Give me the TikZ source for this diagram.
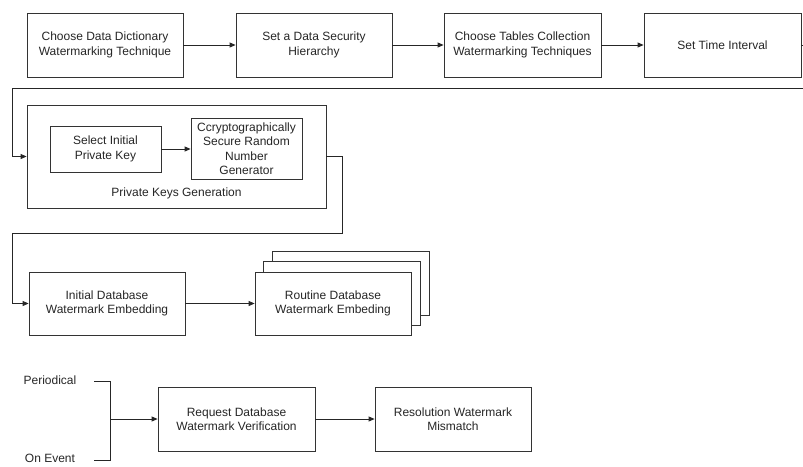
\documentclass[tikz,border=0pt]{standalone}
\usepackage{fontspec}
\setmainfont{Liberation Sans}
\usetikzlibrary{arrows.meta}
\begin{document}
\begin{tikzpicture}[x=1pt,y=-1pt,
  every node/.style={font=\fontsize{12}{14.5}\selectfont, text=black!85},
  box/.style={draw=black!80, line width=0.8pt, fill=white, align=center, inner sep=0pt},
  conn/.style={draw=black!85, line width=0.8pt},
  arr/.style={conn, -{Triangle[length=6pt,width=5pt]}}]
\useasboundingbox (0,0) rectangle (803,466);

% row 1
\node[box, minimum width=156pt, minimum height=64pt] (b1) at (105,45) {Choose Data Dictionary\\Watermarking Technique};
\node[box, minimum width=156pt, minimum height=64pt] (b2) at (314,45) {Set a Data Security\\Hierarchy};
\node[box, minimum width=157pt, minimum height=64pt] (b3) at (522.5,45) {Choose Tables Collection\\Watermarking Techniques};
\node[box, minimum width=157pt, minimum height=64pt] (b4) at (722.5,45) {Set Time Interval};
\draw[arr] (b1) -- (b2);
\draw[arr] (b2) -- (b3);
\draw[arr] (b3) -- (b4);

% private keys generation
\node[box, minimum width=299pt, minimum height=103pt] (pkg) at (176.5,156.5) {};
\node (pkgl) at (176.5,193) {Private Keys Generation};
\node[box, minimum width=111pt, minimum height=46pt] (sel) at (105.5,149) {Select Initial\\Private Key};
\node[box, minimum width=111pt, minimum height=61pt] (rng) at (246.5,148.5) {Ccryptographically\\Secure Random\\Number\\Generator};
\draw[arr] (sel) -- (sel -| rng.west);

\coordinate (c1) at (803,45);
\coordinate (c2) at (803,88);
\coordinate (c3) at (12,88);
\draw[conn] (b4.east) -- (c1);
\draw[arr] (c2) -- (c3) |- (pkg.west);

% embedding
\node[box, minimum width=157pt, minimum height=64pt] (r3) at (350.5,283) {};
\node[box, minimum width=157pt, minimum height=64pt] (r2) at (341.5,293) {};
\node[box, minimum width=156pt, minimum height=63pt] (r1) at (333,303.5) {Routine Database\\Watermark Embeding};
\node[box, minimum width=156pt, minimum height=63pt] (init) at (107,303.5) {Initial Database\\Watermark Embedding};
\coordinate (d1) at (342,156.5);
\coordinate (d2) at (342,233);
\coordinate (d3) at (12,233);
\draw[arr] (pkg.east) -- (d1) -- (d2) -- (d3) |- (init.west);
\draw[arr] (init) -- (r1);

% verification
\node (per) at (50,380) {Periodical};
\node (onev) at (50,458.5) {On Event};
\node[box, minimum width=157pt, minimum height=64pt] (req) at (236.5,419) {Request Database\\Watermark Verification};
\node[box, minimum width=156pt, minimum height=64pt] (res) at (453,419) {Resolution Watermark\\Mismatch};
\coordinate (p1) at (94,381);
\coordinate (p2) at (110,381);
\coordinate (o1) at (94,460);
\coordinate (o2) at (110,460);
\coordinate (j) at (110,419);
\draw[conn] (p1) -- (p2) -- (o2) -- (o1);
\draw[arr] (j) -- (req.west);
\draw[arr] (req) -- (res);
\end{tikzpicture}
\end{document}
